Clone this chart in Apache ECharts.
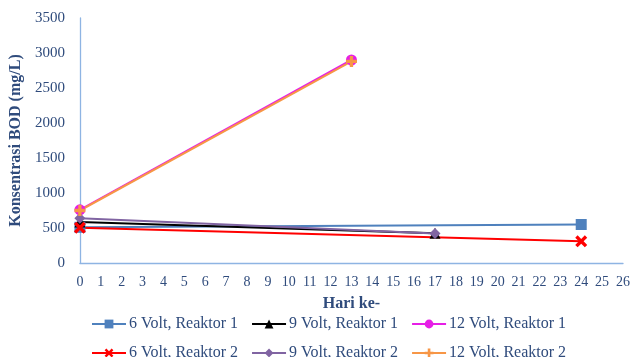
<!DOCTYPE html>
<html>
<head>
<meta charset="utf-8">
<script src="https://cdn.jsdelivr.net/npm/echarts@6/dist/echarts.min.js"></script>
<style>
  html, body { margin: 0; padding: 0; background: #fff; }
  #chart { width: 633px; height: 357px; }
</style>
</head>
<body>
<div id="chart"></div>
<script>
// Day of measurement and BOD concentration (mg/L) for each voltage / reactor
const seriesNames = [
  '6 Volt, Reaktor 1', '9 Volt, Reaktor 1', '12 Volt, Reaktor 1',
  '6 Volt, Reaktor 2', '9 Volt, Reaktor 2', '12 Volt, Reaktor 2'
];
const days6V = [0, 24];
const days9V = [0, 17];
const days12V = [0, 13];
const bod6VR1 = [510, 550];
const bod9VR1 = [585, 425];
const bod12VR1 = [760, 2900];
const bod6VR2 = [505, 310];
const bod9VR2 = [640, 420];
const bod12VR2 = [750, 2880];
const xTicks = { min: 0, max: 26, interval: 1 };
const yTicks = { min: 0, max: 3500, interval: 500 };

const textColor = '#2F4B7C';
const axisColor = '#8EB4E3';
const serif = '"Liberation Serif", "Times New Roman", serif';

const crossPath = 'path://M2,0 L5,3 L8,0 L10,2 L7,5 L10,8 L8,10 L5,7 L2,10 L0,8 L3,5 L0,2 Z';
const plusPath = 'path://M3.5,0 H6.5 V3.5 H10 V6.5 H6.5 V10 H3.5 V6.5 H0 V3.5 H3.5 Z';

function pairs(xs, ys) { return xs.map((x, i) => [x, ys[i]]); }

const styles = [
  { color: '#4F81BD', symbol: 'rect', size: 11, x: days6V, y: bod6VR1 },
  { color: '#000000', symbol: 'triangle', size: 11, x: days9V, y: bod9VR1 },
  { color: '#E61EE6', symbol: 'circle', size: 11, x: days12V, y: bod12VR1 },
  { color: '#FF0000', symbol: crossPath, size: 12, x: days6V, y: bod6VR2 },
  { color: '#8064A2', symbol: 'diamond', size: 11, x: days9V, y: bod9VR2 },
  { color: '#F79646', symbol: plusPath, size: 11, x: days12V, y: bod12VR2 }
];

const series = styles.map((s, i) => ({
  name: seriesNames[i],
  type: 'line',
  data: pairs(s.x, s.y),
  symbol: s.symbol,
  symbolSize: s.size,
  showAllSymbol: true,
  lineStyle: { color: s.color, width: 2 },
  itemStyle: { color: s.color },
  emphasis: { disabled: true },
  animation: false
}));

function legendRow(names, top) {
  return {
    data: names,
    top: top,
    left: 86,
    itemWidth: 34,
    itemHeight: 11,
    itemGap: 13,
    textStyle: { fontFamily: serif, fontSize: 16, color: textColor, padding: [0, 0, 0, -2] }
  };
}

const chart = echarts.init(document.getElementById('chart'), null, { renderer: 'canvas' });
chart.setOption({
  animation: false,
  backgroundColor: '#ffffff',
  grid: { left: 78, top: 18, right: 4, bottom: 94, containLabel: false },
  legend: [legendRow(seriesNames.slice(0, 3), 311), legendRow(seriesNames.slice(3), 340)],
  xAxis: {
    type: 'value',
    min: xTicks.min, max: xTicks.max, interval: xTicks.interval,
    name: 'Hari ke-',
    nameLocation: 'middle',
    nameGap: 33,
    nameTextStyle: { fontFamily: serif, fontSize: 16, fontWeight: 'bold', color: textColor },
    axisLine: { lineStyle: { color: axisColor, width: 1.3 } },
    axisTick: { show: false },
    splitLine: { show: false },
    axisLabel: { fontFamily: serif, fontSize: 14, color: textColor, margin: 12 }
  },
  yAxis: {
    type: 'value',
    min: yTicks.min, max: yTicks.max, interval: yTicks.interval,
    name: 'Konsentrasi BOD (mg/L)',
    nameLocation: 'middle',
    nameGap: 49,
    nameTextStyle: { fontFamily: serif, fontSize: 16, fontWeight: 'bold', color: textColor },
    axisLine: { show: true, lineStyle: { color: axisColor, width: 1.3 } },
    axisTick: { show: false },
    splitLine: { show: false },
    axisLabel: { fontFamily: serif, fontSize: 15, color: textColor, margin: 15, formatter: v => String(v) }
  },
  series: series
});
</script>
</body>
</html>
